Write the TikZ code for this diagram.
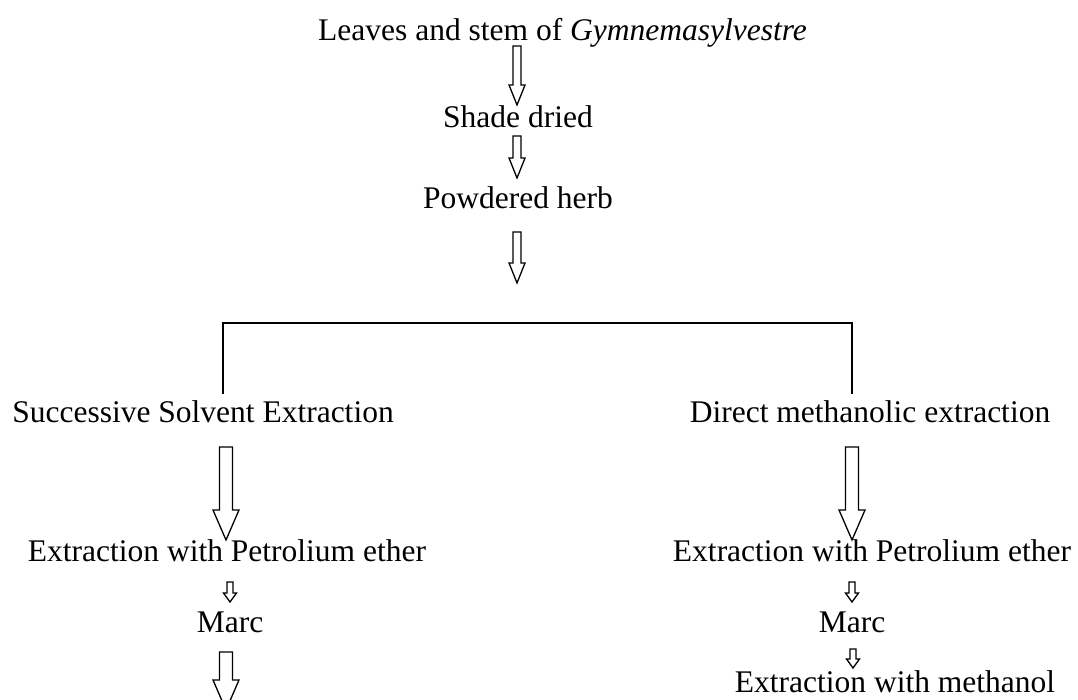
\documentclass[tikz,border=0pt]{standalone}
\usepackage{fontspec}
\setmainfont{Liberation Serif}
\usetikzlibrary{calc}
\begin{document}
\begin{tikzpicture}[x=1pt,y=-1pt,
  lbl/.style={inner sep=0pt,font=\fontsize{31.5}{36}\selectfont},
  barrow/.style args={#1/#2/#3}{line width=1.3pt,line join=miter,fill=white,to path={
    let \p1=(\tikztostart), \p2=(\tikztotarget) in
    (\x1-#1,\y1) -- (\x1+#1,\y1) -- (\x1+#1,\y2+#3) -- (\x1+#2,\y2+#3) -- (\x1,\y2)
    -- (\x1-#2,\y2+#3) -- (\x1-#1,\y2+#3) -- cycle}},
  thin/.style={barrow=4pt/8pt/20pt},
  big/.style={barrow=6.5pt/13pt/30pt},
  small/.style={barrow=3pt/6.5pt/9pt},
  bracket/.style={line width=1.6pt}
]
\useasboundingbox (0,0) rectangle (1078,700);

\node[lbl,anchor=base west] (leaves) at (318,41) {Leaves and stem of \textit{Gymnemasylvestre}};
\node[lbl,anchor=base] (shade) at (518,128) {Shade dried};
\node[lbl] (powder) at (518,198) {Powdered herb};
\node[lbl] (succ) at (203,412) {Successive Solvent Extraction};
\node[lbl] (direct) at (870,412) {Direct methanolic extraction};
\node[lbl] (petl) at (227,551) {Extraction with Petrolium ether};
\node[lbl] (petr) at (872,551) {Extraction with Petrolium ether};
\node[lbl] (marcl) at (230,622) {Marc};
\node[lbl] (marcr) at (852,622) {Marc};
\node[lbl] (meth) at (895,682) {Extraction with methanol};

\coordinate (a1s) at (517,46);  \coordinate (a1e) at (517,105);
\coordinate (a2s) at (517,136); \coordinate (a2e) at (517,178);
\coordinate (a3s) at (517,232); \coordinate (a3e) at (517,283);
\coordinate (bl) at (223,394); \coordinate (br) at (852,394);
\coordinate (btl) at (223,323); \coordinate (btr) at (852,323);
\coordinate (b1s) at (226,447); \coordinate (b1e) at (226,540);
\coordinate (b2s) at (852,447); \coordinate (b2e) at (852,540);
\coordinate (s1s) at (230,582); \coordinate (s1e) at (230,602);
\coordinate (s2s) at (852,582); \coordinate (s2e) at (852,602);
\coordinate (b3s) at (226,652); \coordinate (b3e) at (226,710);
\coordinate (s3s) at (853,649); \coordinate (s3e) at (853,668);

\draw[thin] (a1s) to (a1e);
\draw[thin] (a2s) to (a2e);
\draw[thin] (a3s) to (a3e);
\draw[bracket] (bl) -- (btl) -- (btr) -- (br);
\draw[big] (b1s) to (b1e);
\draw[big] (b2s) to (b2e);
\draw[small] (s1s) to (s1e);
\draw[small] (s2s) to (s2e);
\draw[big] (b3s) to (b3e);
\draw[small] (s3s) to (s3e);
\end{tikzpicture}
\end{document}
